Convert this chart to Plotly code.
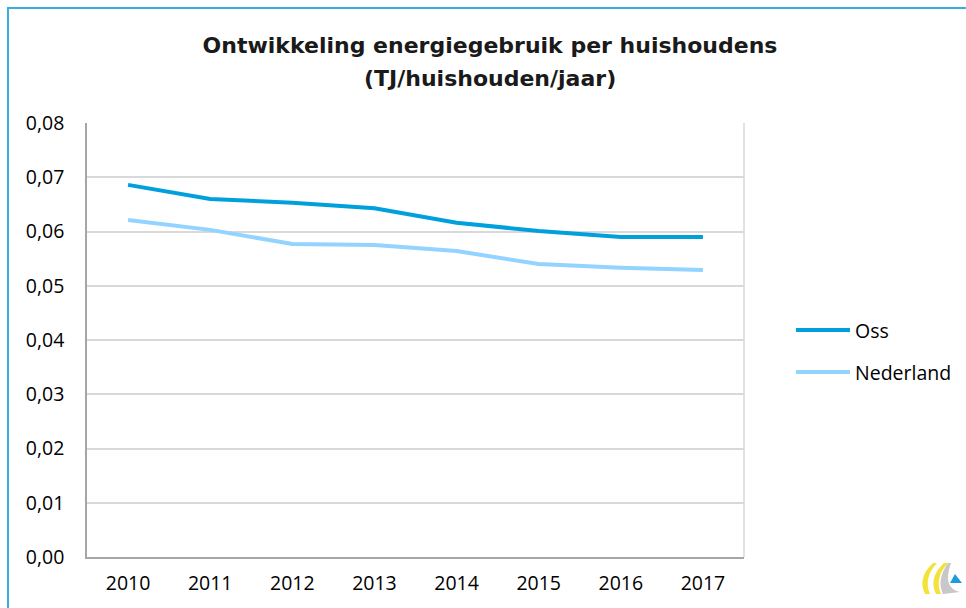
import plotly.graph_objects as go

years = ["2010", "2011", "2012", "2013", "2014", "2015", "2016", "2017"]
oss = [0.0686, 0.0660, 0.0653, 0.0643, 0.0616, 0.0601, 0.0590, 0.0590]
nederland = [0.0621, 0.0603, 0.0577, 0.0575, 0.0564, 0.0540, 0.0533, 0.0529]
y_ticks = [0.00, 0.01, 0.02, 0.03, 0.04, 0.05, 0.06, 0.07, 0.08]
series_names = ["Oss", "Nederland"]
series_colors = ["#00A0DC", "#92D4FF"]

W, H = 966, 608
L, R, T, B = 87, 744, 123, 557


def px(x):
    return (x - L) / (R - L)


def py(y):
    return (B - y) / (B - T)


FONT = "Open Sans, DejaVu Sans, sans-serif"
TITLE_FONT = "DejaVu Sans, Open Sans, sans-serif"
TITLE_SIZE = 22

fig = go.Figure()
for name, vals, col in zip(series_names, [oss, nederland], series_colors):
    fig.add_trace(go.Scatter(x=years, y=vals, name=name, mode="lines",
                             line=dict(color=col, width=4)))

fig.update_layout(
    width=W, height=H,
    margin=dict(l=L, r=W - R, t=T, b=H - B, pad=0),
    paper_bgcolor="white", plot_bgcolor="white",
    font=dict(family=FONT, size=20, color="#000000"),
    separators=",.",
    title=dict(text="<b>Ontwikkeling energiegebruik per huishoudens</b>",
               xref="container", yref="container",
               x=490 / W, xanchor="center", y=1 - 45 / H, yanchor="middle",
               font=dict(family=TITLE_FONT, size=TITLE_SIZE, color="#1a1a1a")),
    showlegend=False,
    xaxis=dict(type="category", range=[-0.5, 7.5], showgrid=False,
               showline=True, linecolor="#A6A6A6", linewidth=1.5,
               ticks="", tickfont=dict(size=19.5), ticklabelstandoff=8),
    yaxis=dict(range=[0, 0.08], tickvals=y_ticks, tickformat=".2f",
               showgrid=True, gridcolor="#D9D9D9", gridwidth=1.5,
               showline=True, linecolor="#A6A6A6", linewidth=1.5,
               ticks="", tickfont=dict(size=19.5), ticklabelstandoff=17,
               zeroline=False),
)

# second title line
fig.add_annotation(text="<b>(TJ/huishouden/jaar)</b>", xref="paper", yref="paper",
                   x=px(490), y=py(78), xanchor="center", yanchor="middle",
                   showarrow=False, font=dict(family=TITLE_FONT, size=TITLE_SIZE, color="#1a1a1a"))

# legend (drawn manually to match long line samples)
for i, (name, col) in enumerate(zip(series_names, series_colors)):
    ly = 330 + 42 * i
    fig.add_shape(type="line", xref="paper", yref="paper",
                  x0=px(796), x1=px(850), y0=py(ly), y1=py(ly),
                  line=dict(color=col, width=4))
    fig.add_annotation(text=name, xref="paper", yref="paper",
                       x=px(853), y=py(ly), xanchor="left", yanchor="middle",
                       showarrow=False, font=dict(size=19.5, color="#000000"))

# plot-area right edge line
fig.add_shape(type="line", xref="paper", yref="paper", x0=1, x1=1, y0=0, y1=1,
              line=dict(color="#D9D9D9", width=1.5))
# outer chart border (light blue)
fig.add_shape(type="rect", xref="paper", yref="paper",
              x0=px(8), x1=px(W + 10), y0=py(H + 10), y1=py(8),
              line=dict(color="#3AAEE0", width=2), layer="below")

# small logo approximation bottom-right
fig.add_shape(type="path", xref="paper", yref="paper",
              path=f"M {px(933)},{py(563)} Q {px(917)},{py(578)} {px(925)},{py(594)} L {px(930)},{py(594)} Q {px(923)},{py(578)} {px(937)},{py(563)} Z",
              fillcolor="#F2E23A", line=dict(width=0))
fig.add_shape(type="path", xref="paper", yref="paper",
              path=f"M {px(944)},{py(563)} Q {px(928)},{py(578)} {px(936)},{py(594)} L {px(941)},{py(594)} Q {px(934)},{py(578)} {px(948)},{py(563)} Z",
              fillcolor="#F2E23A", line=dict(width=0))
fig.add_shape(type="path", xref="paper", yref="paper",
              path=f"M {px(948)},{py(563)} Q {px(936)},{py(580)} {px(943)},{py(594)} L {px(960)},{py(592)} Q {px(942)},{py(588)} {px(951)},{py(563)} Z",
              fillcolor="#C8C8C8", line=dict(width=0))
fig.add_shape(type="path", xref="paper", yref="paper",
              path=f"M {px(955)},{py(574)} L {px(962)},{py(583)} L {px(950)},{py(583)} Z",
              fillcolor="#1E9BE0", line=dict(width=0))

fig.write_html("out.html", config={"displayModeBar": False},
               post_script="document.body.style.margin='0';document.body.style.overflow='hidden';")
